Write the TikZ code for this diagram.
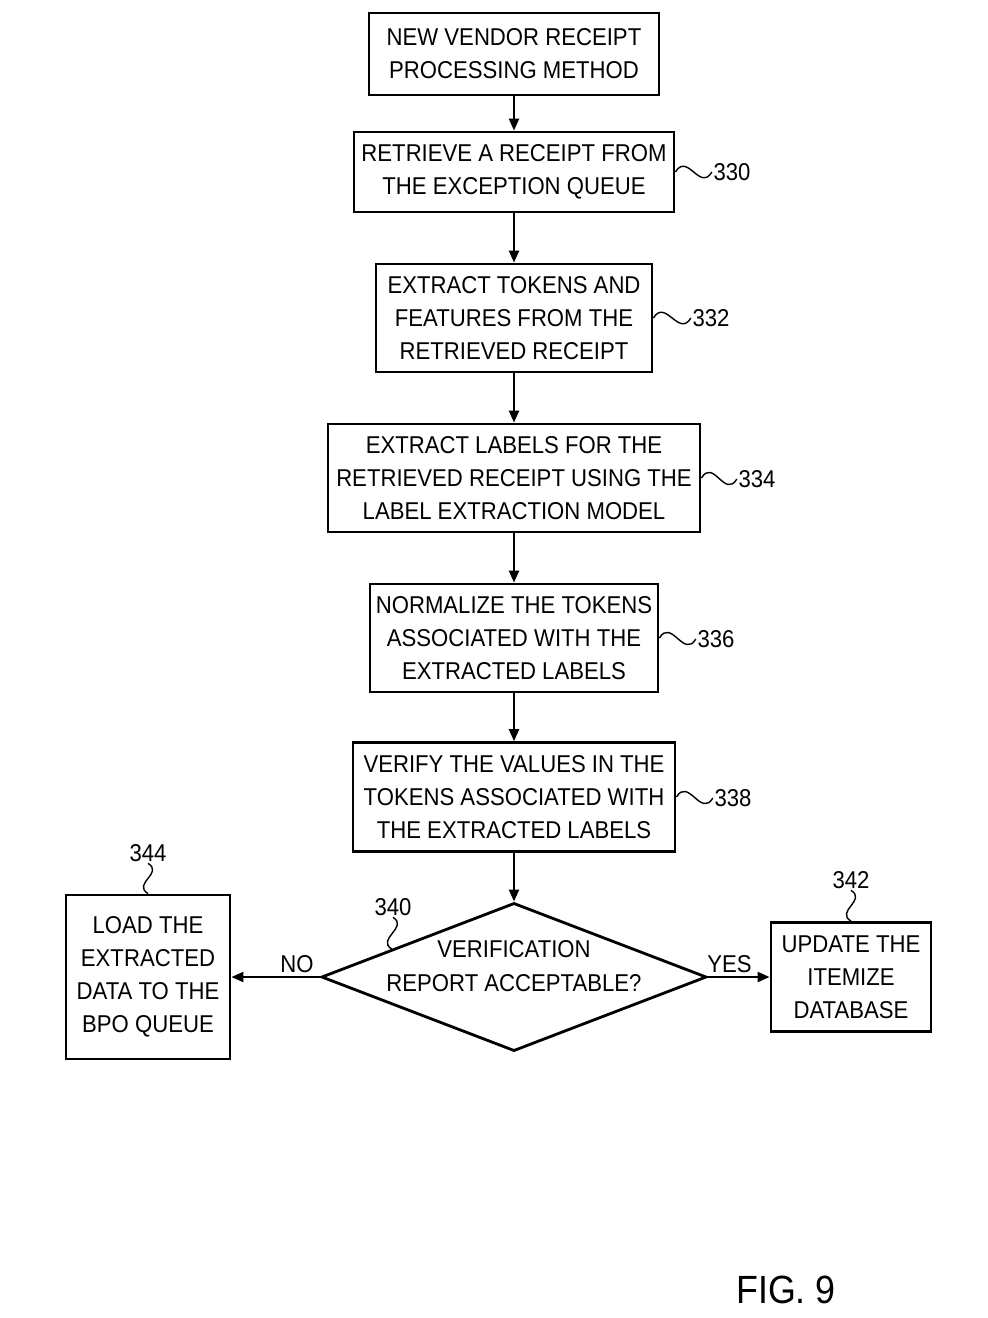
\documentclass[tikz,border=0pt]{standalone}
\usepackage{fontspec}
\setmainfont{Liberation Sans}[FakeStretch=0.91]
\usetikzlibrary{shapes.geometric,arrows.meta,calc}
\begin{document}
\begin{tikzpicture}[
    x=0.025cm, y=-0.025cm,
    box/.style={rectangle, draw, line width=2pt, align=center, inner sep=2pt, font=\fontsize{17.3}{23.5}\selectfont},
    decision/.style={diamond, draw, line width=2pt, align=center, inner sep=0pt, aspect=2.6, font=\fontsize{17.3}{23.5}\selectfont},
    flow/.style={line width=1.6pt, -{Triangle[length=0.3cm,width=0.25cm]}},
    lead/.style={line width=1pt},
    ref/.style={inner sep=1pt, font=\fontsize{17.3}{20}\selectfont},
    answer/.style={inner sep=1pt, font=\fontsize{17.3}{20}\selectfont}
]
\useasboundingbox (0,0) rectangle (988,1318);
\node[box, minimum width=7.25cm, minimum height=2.05cm] (start) at (514,54) {NEW VENDOR RECEIPT\\PROCESSING METHOD};
\node[box, minimum width=8.0cm, minimum height=2.0cm] (b330) at (514,172) {RETRIEVE A RECEIPT FROM\\THE EXCEPTION QUEUE};
\node[box, minimum width=6.9cm, minimum height=2.7cm] (b332) at (514,318) {EXTRACT TOKENS AND\\FEATURES FROM THE\\RETRIEVED RECEIPT};
\node[box, minimum width=9.3cm, minimum height=2.7cm] (b334) at (514,478) {EXTRACT LABELS FOR THE\\RETRIEVED RECEIPT USING THE\\LABEL EXTRACTION MODEL};
\node[box, minimum width=7.2cm, minimum height=2.7cm] (b336) at (514,638) {NORMALIZE THE TOKENS\\ASSOCIATED WITH THE\\EXTRACTED LABELS};
\node[box, minimum width=8.05cm, minimum height=2.72cm] (b338) at (514,797) {VERIFY THE VALUES IN THE\\TOKENS ASSOCIATED WITH\\THE EXTRACTED LABELS};
\node[decision, text depth=0.55cm, inner ysep=-0.275cm] (d340) at (514,977) {VERIFICATION\\REPORT ACCEPTABLE?};
\node[box, minimum width=4.1cm, minimum height=4.1cm] (b344) at (148,977) {LOAD THE\\EXTRACTED\\DATA TO THE\\BPO QUEUE};
\node[box, minimum width=4.0cm, minimum height=2.72cm] (b342) at (851,977) {UPDATE THE\\ITEMIZE\\DATABASE};

\node[ref] (l330) at (732,172) {330};
\node[ref] (l332) at (711,318) {332};
\node[ref] (l334) at (757,479) {334};
\node[ref] (l336) at (716,639) {336};
\node[ref] (l338) at (733,798) {338};
\node[ref] (l340) at (393,907) {340};
\node[ref] (l342) at (851,880) {342};
\node[ref] (l344) at (148,853) {344};
\node[font=\fontsize{28}{34}\selectfont] (fig) at (786,1290) {FIG. 9};

\draw[flow] (start) -- (b330);
\draw[flow] (b330) -- (b332);
\draw[flow] (b332) -- (b334);
\draw[flow] (b334) -- (b336);
\draw[flow] (b336) -- (b338);
\draw[flow] (b338) -- (d340);
\draw[flow] (d340.west) -- node[answer, above=1pt, pos=0.26] {NO} (b344.east);
\draw[flow] (d340.east) -- node[answer, above=1pt, pos=0.35] {YES} (b342.west);

\draw[lead] (b330.east) .. controls +(12,-20) and +(-12,20) .. (l330.west);
\draw[lead] (b332.east) .. controls +(12,-20) and +(-12,20) .. (l332.west);
\draw[lead] (b334.east) .. controls +(12,-20) and +(-12,20) .. (l334.west);
\draw[lead] (b336.east) .. controls +(12,-20) and +(-12,20) .. (l336.west);
\draw[lead] (b338.east) .. controls +(12,-20) and +(-12,20) .. (l338.west);
\coordinate (c340) at ($(d340.west)!0.37!(d340.north)$);
\draw[lead] (c340) .. controls +(-16,-10) and +(16,10) .. (l340.south);
\draw[lead] (b342.north) .. controls +(-16,-10) and +(16,10) .. (l342.south);
\draw[lead] (b344.north) .. controls +(-16,-10) and +(16,10) .. (l344.south);
\end{tikzpicture}
\end{document}
